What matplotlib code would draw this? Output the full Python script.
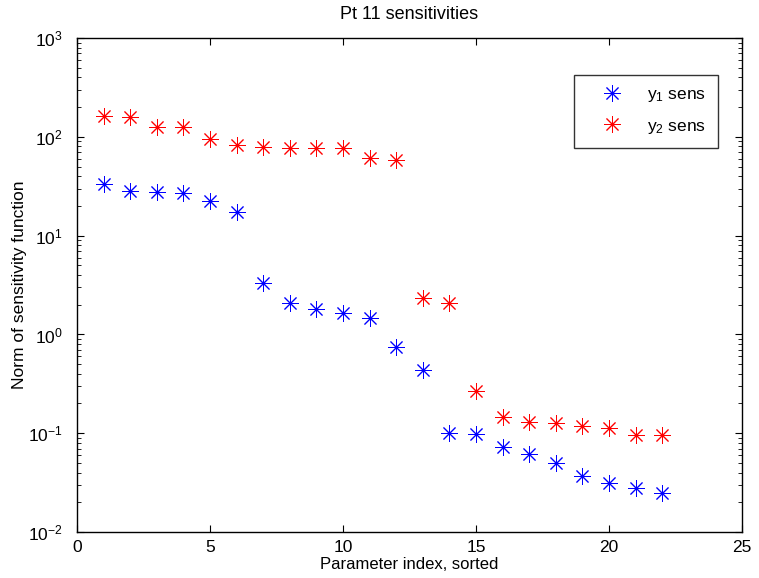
import matplotlib
matplotlib.use("Agg")
import matplotlib.pyplot as plt
from matplotlib.ticker import LogLocator, NullFormatter

plt.rcParams['font.family'] = ['Liberation Sans', 'DejaVu Sans']

idx = list(range(1, 23))
y1_sens = [33, 28.4, 27.8, 27, 22.2, 17.3, 3.3, 2.08, 1.8, 1.64, 1.47, 0.75,
           0.436, 0.1, 0.098, 0.072, 0.061, 0.050, 0.037, 0.0316, 0.0277, 0.025]
y2_sens = [163, 158, 126, 126, 95, 83, 79, 78, 78, 77, 60.5, 59,
           2.35, 2.06, 0.267, 0.145, 0.13, 0.127, 0.118, 0.113, 0.096, 0.095]

fig = plt.figure(figsize=(7.59, 5.78), dpi=100)
ax = fig.add_axes([0.1014, 0.0796, 0.8762, 0.8544])

mk = (8, 2, 0)
ax.semilogy(idx, y1_sens, linestyle='none', marker=mk, color='blue',
            markersize=12, markeredgewidth=0.7, label=r'$\mathregular{y_1}$ sens')
ax.semilogy(idx, y2_sens, linestyle='none', marker=mk, color='red',
            markersize=12, markeredgewidth=0.7, label=r'$\mathregular{y_2}$ sens')

ax.set_xlim(0, 25)
ax.set_ylim(1e-2, 1e3)
ax.set_xticks([0, 5, 10, 15, 20, 25])
ax.yaxis.set_major_locator(LogLocator(base=10, numticks=10))
ax.yaxis.set_minor_locator(LogLocator(base=10, subs=range(2, 10), numticks=20))
ax.yaxis.set_minor_formatter(NullFormatter())
ax.tick_params(which='both', direction='in', top=True, right=True, labelsize=12.5)
ax.tick_params(which='major', length=5)
ax.tick_params(which='minor', length=3)
ax.tick_params(axis='x', pad=6)
ax.tick_params(axis='y', pad=10)
for s in ax.spines.values():
    s.set_linewidth(1.0)

ax.set_title('Pt 11 sensitivities', fontsize=13, pad=14)
ax.set_xlabel('Parameter index, sorted', fontsize=12, labelpad=1)
ax.set_ylabel('Norm of sensitivity function', fontsize=12.5, labelpad=1)

leg = ax.legend(loc='upper right', bbox_to_anchor=(0.964, 0.925), borderaxespad=0,
                fancybox=False, edgecolor='black', fontsize=12.5, borderpad=0.7,
                labelspacing=0.8, handlelength=3.0, handletextpad=0.5)
leg.get_frame().set_linewidth(1.0)

fig.savefig('out.png', dpi=100)
